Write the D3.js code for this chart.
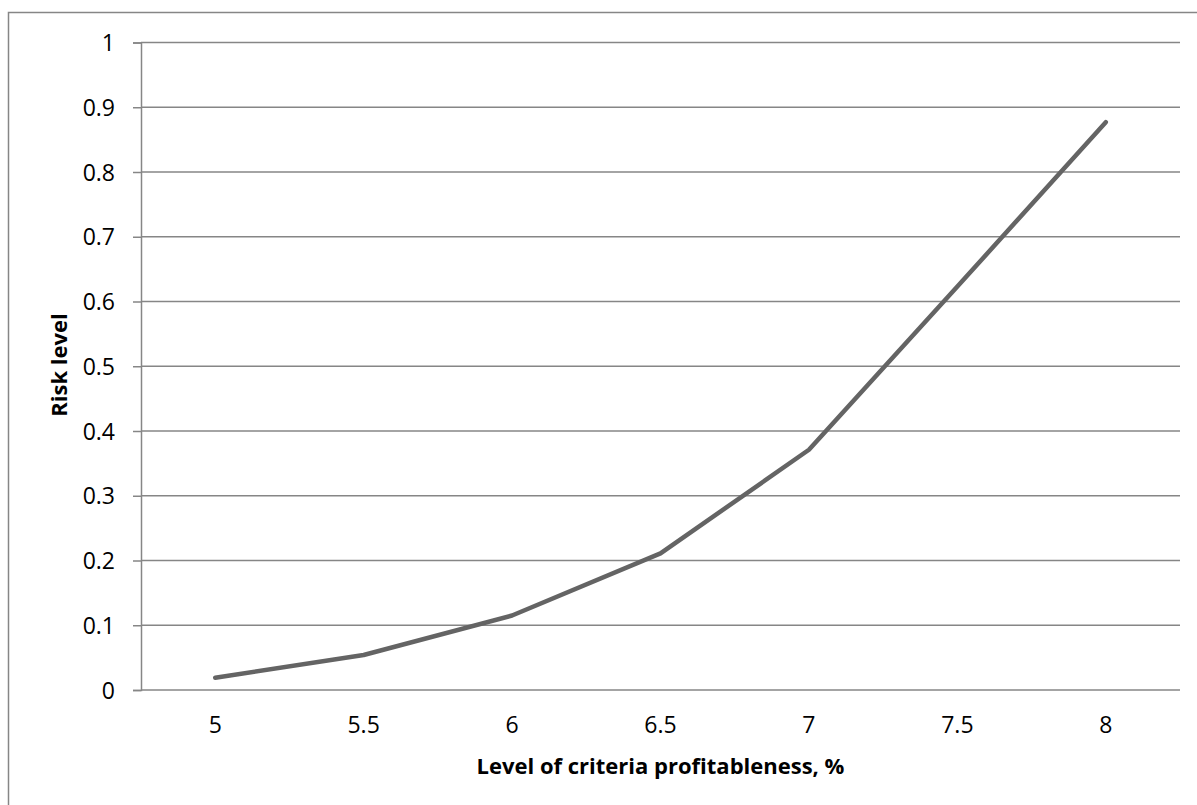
<!DOCTYPE html>
<html>
<head>
<meta charset="utf-8">
<script src="https://cdn.jsdelivr.net/npm/d3@7/dist/d3.min.js"></script>
<style>
  html, body { margin: 0; padding: 0; background: #fff; }
  svg { display: block; }
  text { font-family: "Open Sans", "Noto Sans", sans-serif; fill: #000; }
</style>
</head>
<body>
<svg id="chart" width="1197" height="805"></svg>
<script>
const categories = ["5", "5.5", "6", "6.5", "7", "7.5", "8"];
const riskValues = [0.019, 0.054, 0.115, 0.211, 0.371, 0.623, 0.877];
const yTicks = [0, 0.1, 0.2, 0.3, 0.4, 0.5, 0.6, 0.7, 0.8, 0.9, 1];
const xTitle = "Level of criteria profitableness, %";
const yTitle = "Risk level";

const svg = d3.select("#chart");
const W = 1197, H = 805;
const plot = { left: 141, right: 1180, top: 42.5, bottom: 690 };

// outer frame (extends past the right and bottom edges)
svg.append("rect")
  .attr("x", 8.5).attr("y", 12.5)
  .attr("width", W + 20).attr("height", H + 20)
  .attr("fill", "none").attr("stroke", "#868686").attr("stroke-width", 1.5);

const x = d3.scaleBand().domain(categories).range([plot.left, plot.right]);
const y = d3.scaleLinear().domain([0, 1]).range([plot.bottom, plot.top]);

// y axis
const yAxis = d3.axisLeft(y).tickValues(yTicks)
  .tickFormat(d => d3.format("~g")(d))
  .tickSize(8);
const gy = svg.append("g").attr("transform", `translate(${plot.left},0)`).call(yAxis);
gy.attr("font-size", null).attr("font-family", null);
gy.select(".domain").attr("stroke", "#868686").attr("stroke-width", 1.5);
gy.selectAll(".tick line").attr("stroke", "#868686").attr("stroke-width", 1.5);
gy.selectAll(".tick text")
  .style("font-size", "23px").style("font-family", "Open Sans")
  .attr("fill", "#000").attr("x", -26).attr("dy", "0.35em");

// gridlines
svg.append("g").selectAll("line").data(yTicks).join("line")
  .attr("x1", plot.left).attr("x2", plot.right)
  .attr("y1", d => y(d)).attr("y2", d => y(d))
  .attr("stroke", "#868686").attr("stroke-width", 1.5);

// x axis
const xAxis = d3.axisBottom(x).tickSize(0).tickPadding(0);
const gx = svg.append("g").attr("transform", `translate(0,${plot.bottom})`).call(xAxis);
gx.attr("font-size", null).attr("font-family", null);
gx.select(".domain").remove();
gx.selectAll(".tick text")
  .style("font-size", "23px").style("font-family", "Open Sans")
  .attr("fill", "#000").attr("y", 43).attr("dy", 0);

// line
const line = d3.line()
  .x((d, i) => x(categories[i]) + x.bandwidth() / 2)
  .y(d => y(d));
svg.append("path").datum(riskValues)
  .attr("d", line)
  .attr("fill", "none").attr("stroke", "#646464")
  .attr("stroke-width", 4.5).attr("stroke-linecap", "round").attr("stroke-linejoin", "round");

// titles
svg.append("text")
  .attr("x", (plot.left + plot.right) / 2).attr("y", 774)
  .attr("text-anchor", "middle")
  .style("font-weight", "bold").style("font-size", "22px")
  .text(xTitle);
svg.append("text")
  .attr("transform", "translate(67,365) rotate(-90)")
  .attr("text-anchor", "middle")
  .style("font-weight", "bold").style("font-size", "22px")
  .text(yTitle);
</script>
</body>
</html>
